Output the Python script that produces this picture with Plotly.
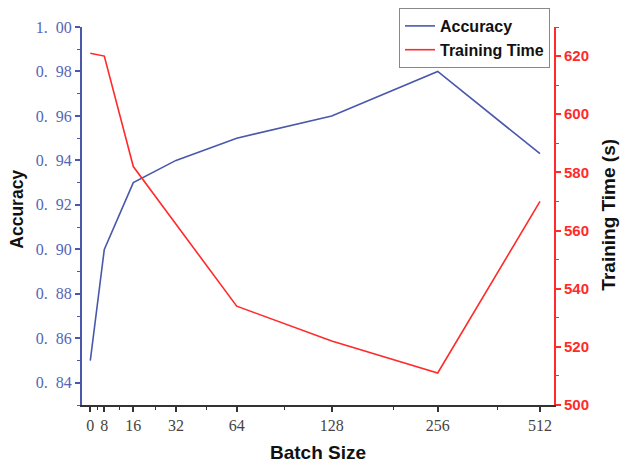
import plotly.graph_objects as go

# Data
batch_labels = ["0", "8", "16", "32", "64", "128", "256", "512"]
# horizontal positions of the categories on the (non-uniform) batch-size axis
batch_pos = [0, 14, 43, 85.7, 146.4, 241.4, 347.4, 449.7]
minor_pos = [7, 28.7, 64.7, 116.4, 193.7, 303, 407.3]
accuracy = [0.85, 0.90, 0.93, 0.94, 0.95, 0.96, 0.98, 0.943]
train_time = [621, 620, 582, 562, 534, 522, 511, 570]

acc_ticks = [0.84, 0.86, 0.88, 0.90, 0.92, 0.94, 0.96, 0.98, 1.00]
acc_ticktext = ["0.\u2002" + f"{v:.2f}"[2:] if v < 1 else "1.\u200200" for v in acc_ticks]
time_ticks = [500, 520, 540, 560, 580, 600, 620]

BLUE = "#4a58ab"
RED = "#ff2a2a"
SERIF = "Liberation Serif, Times New Roman, serif"
SANS = "Liberation Sans, Arial, sans-serif"

fig = go.Figure()
fig.add_trace(go.Scatter(x=batch_pos, y=accuracy, mode="lines", name="<b>Accuracy</b>",
                         line=dict(color=BLUE, width=1.6), yaxis="y"))
fig.add_trace(go.Scatter(x=batch_pos, y=train_time, mode="lines", name="<b>Training Time</b>",
                         line=dict(color=RED, width=1.6), yaxis="y2"))

fig.update_layout(
    width=621, height=464,
    margin=dict(l=82, r=67, t=27, b=59, autoexpand=False),
    plot_bgcolor="white", paper_bgcolor="white",
    showlegend=True,
    legend=dict(xref="container", yref="container", x=399 / 621, y=1 - 8 / 464,
                xanchor="left", yanchor="top",
                bgcolor="white", bordercolor="#888888", borderwidth=1,
                font=dict(family=SANS, size=16, color="#111111"),
                tracegroupgap=0, itemwidth=30),
    xaxis=dict(
        range=[-8.3, 463.7], showgrid=False, zeroline=False, automargin=False,
        showline=True, linecolor="#333333", linewidth=2,
        tickmode="array", tickvals=batch_pos, ticktext=batch_labels,
        ticks="outside", ticklen=5, tickwidth=1.5, tickcolor="#333333",
        tickfont=dict(family=SERIF, size=16, color="#444444"),
        minor=dict(tickmode="array", tickvals=minor_pos, ticks="outside",
                   ticklen=3, tickwidth=1.2, tickcolor="#333333"),
    ),
    yaxis=dict(
        range=[0.83, 1.00], showgrid=False, zeroline=False, automargin=False,
        showline=True, linecolor=BLUE, linewidth=2,
        tickmode="array", tickvals=acc_ticks, ticktext=acc_ticktext,
        ticks="outside", ticklen=5, tickwidth=1.5, tickcolor=BLUE,
        tickfont=dict(family=SERIF, size=16, color="#5565b8"),
        minor=dict(tickmode="linear", tick0=0.83, dtick=0.01, ticks="outside",
                   ticklen=3, tickwidth=1.2, tickcolor=BLUE),
    ),
    yaxis2=dict(
        range=[500, 630], overlaying="y", side="right", showgrid=False, zeroline=False,
        automargin=False,
        showline=True, linecolor=RED, linewidth=2,
        tickmode="array", tickvals=time_ticks,
        ticks="outside", ticklen=5, tickwidth=1.5, tickcolor=RED,
        tickfont=dict(family=SANS, size=15, color=RED, weight="bold"),
        minor=dict(tickmode="linear", tick0=500, dtick=10, ticks="outside",
                   ticklen=3, tickwidth=1.2, tickcolor=RED),
    ),
    annotations=[
        dict(text="<b>Training Time (s)</b>", xref="paper", yref="paper",
             x=(609 - 82) / 472, y=0.5036, xanchor="center", yanchor="middle",
             textangle=-90, showarrow=False,
             font=dict(family=SANS, size=19, color="#111111")),
        dict(text="<b>Accuracy</b>", xref="paper", yref="paper",
             x=(17.5 - 82) / 472, y=0.518, xanchor="center", yanchor="middle",
             textangle=-90, showarrow=False,
             font=dict(family=SANS, size=17.5, color="#111111")),
        dict(text="<b>Batch Size</b>", xref="paper", yref="paper",
             x=(317.5 - 82) / 472, y=-(453 - 405) / 378.3, xanchor="center", yanchor="middle",
             showarrow=False,
             font=dict(family=SANS, size=19, color="#111111")),
    ],
)

fig.write_html("out.html")
